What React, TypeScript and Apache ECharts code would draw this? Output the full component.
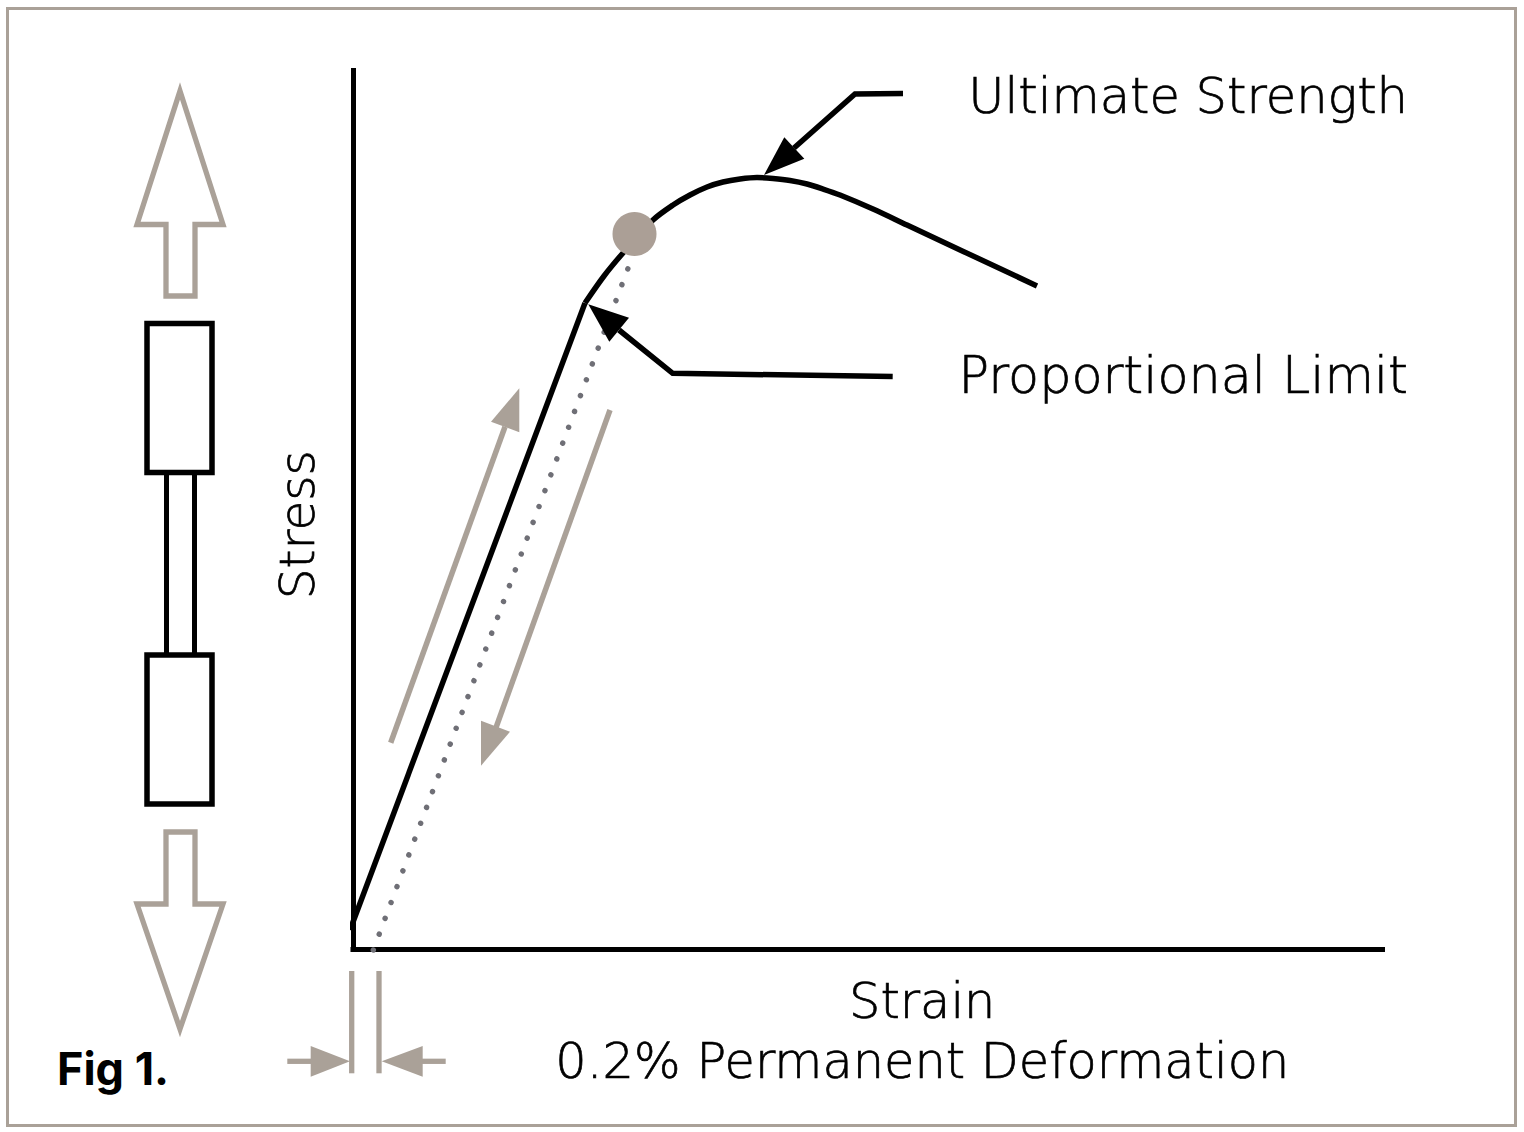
import React, { useEffect, useRef } from "react";
import * as echarts from "echarts";

const FONT = "'DejaVu Sans', sans-serif";
const FIG_FONT = "Inter, 'DejaVu Sans', sans-serif";
const GREY = "#aaa198";

const elasticLine = [[-0.03, 0.19], [2.32, 6.46]];
const plasticCurve = [[2.32, 6.46], [2.51, 6.73], [2.7, 6.96], [3.0, 7.29], [3.2, 7.44], [3.37, 7.54], [3.54, 7.62], [3.7, 7.67], [3.87, 7.7], [4.04, 7.715], [4.2, 7.705], [4.37, 7.685], [4.54, 7.65], [4.7, 7.6], [4.87, 7.54], [5.2, 7.4], [5.54, 7.24], [6.84, 6.63]];
const offsetLine = [[0.203, -0.01], [2.8, 6.94]];
const limitPoint = [[2.815, 7.15]];
const ultimateLeader = [[5.5, 8.555], [5.02, 8.55], [4.41, 8.01]];
const proportionalLeader = [[5.397, 5.725], [3.197, 5.757], [2.66, 6.19]];
const loadingLine = [[0.377, 2.063], [1.52, 5.223]];
const unloadingLine = [[2.57, 5.39], [1.425, 2.2]];
const offsetShafts = [
  [-0.013, -0.22, -0.013, -1.243],
  [0.26, -0.22, 0.26, -1.243],
  [-0.657, -1.123, -0.38, -1.123],
  [0.927, -1.123, 0.65, -1.123],
];
const blackHeads = [
  [4.11, 7.74, 4.313, 8.117, 4.513, 7.903],
  [2.353, 6.447, 2.76, 6.313, 2.563, 6.073],
];
const greyHeads = [
  [1.663, 5.607, 1.38, 5.273, 1.663, 5.167],
  [1.28, 1.833, 1.28, 2.283, 1.57, 2.173],
  [-0.03, -1.123, -0.423, -0.97, -0.423, -1.277],
  [0.287, -1.123, 0.697, -0.97, 0.697, -1.277],
];

const labelUltimate = "Ultimate Strength";
const labelProportional = "Proportional Limit";
const labelStress = "Stress";
const labelStrain = "Strain";
const labelOffset = "0.2% Permanent Deformation";
const labelFig = "Fig 1.";

const line = (data: number[][], color: string, z = 3, extra: any = {}) => ({
  type: "line",
  data,
  symbol: "none",
  clip: false,
  silent: true,
  z,
  lineStyle: { color, width: 5.5, cap: "butt", join: "miter", ...extra },
  ...(extra.smooth ? { smooth: extra.smooth } : {}),
});

const heads = (data: number[][], color: string) => ({
  type: "custom",
  data,
  clip: false,
  silent: true,
  z: 5,
  encode: { x: [0, 2, 4], y: [1, 3, 5] },
  renderItem: (_: any, api: any) => ({
    type: "polygon",
    shape: {
      points: [
        api.coord([api.value(0), api.value(1)]),
        api.coord([api.value(2), api.value(3)]),
        api.coord([api.value(4), api.value(5)]),
      ],
    },
    style: { fill: color },
  }),
});

const shafts = (data: number[][], color: string) => ({
  type: "custom",
  data,
  clip: false,
  silent: true,
  z: 5,
  encode: { x: [0, 2], y: [1, 3] },
  renderItem: (_: any, api: any) => {
    const a = api.coord([api.value(0), api.value(1)]);
    const b = api.coord([api.value(2), api.value(3)]);
    return {
      type: "line",
      shape: { x1: a[0], y1: a[1], x2: b[0], y2: b[1] },
      style: { stroke: color, lineWidth: 5.3 },
    };
  },
});

const outline = (points: number[][]) => ({
  type: "polygon",
  shape: { points },
  style: { fill: "none", stroke: GREY, lineWidth: 5.3, lineJoin: "miter", miterLimit: 10 },
});
const box = (x: number, y: number, width: number, height: number) => ({
  type: "rect",
  shape: { x, y, width, height },
  style: { fill: "#fff", stroke: "#000", lineWidth: 5.5 },
});
const bar = (x: number, y1: number, y2: number) => ({
  type: "line",
  shape: { x1: x, y1, x2: x, y2 },
  style: { stroke: "#000", lineWidth: 5 },
});
const label = (text: string, x: number, y: number, size: number, weight: number, align = "right", family = FONT, border = 0.7) => ({
  type: "text",
  x,
  y,
  style: { text, fontFamily: family, fontSize: size, fontWeight: weight, fill: "#000", textAlign: align, textVerticalAlign: "middle", stroke: border ? "#000" : undefined, lineWidth: border },
});

export default function App() {
  const ref = useRef<HTMLDivElement>(null);
  useEffect(() => {
    const chart = echarts.init(ref.current!, null, { renderer: "svg" });
    chart.setOption({
      animation: false,
      backgroundColor: "#fff",
      grid: { left: 353, top: 70.5, width: 1029.5, height: 878.5, containLabel: false },
      xAxis: {
        type: "value",
        min: 0,
        max: 10.295,
        name: labelStrain + "\n" + labelOffset,
        nameLocation: "middle",
        nameGap: 22,
        nameTextStyle: { fontFamily: FONT, fontSize: 49.4, fontWeight: 200, color: "#000", textBorderColor: "#000", textBorderWidth: 0.7, lineHeight: 60, padding: [0, 0, 0, 109], verticalAlign: "top" },
        axisLine: { show: true, onZero: false, lineStyle: { color: "#000", width: 5, cap: "square" } },
        axisTick: { show: false },
        axisLabel: { show: false },
        splitLine: { show: false },
      },
      yAxis: {
        type: "value",
        min: 0,
        max: 8.785,
        name: labelStress,
        nameLocation: "middle",
        nameGap: 32,
        nameTextStyle: { fontFamily: FONT, fontSize: 48.5, fontWeight: 200, color: "#000", textBorderColor: "#000", textBorderWidth: 0.7, padding: [0, 30, 0, 0] },
        axisLine: { show: true, onZero: false, lineStyle: { color: "#000", width: 5, cap: "square" } },
        axisTick: { show: false },
        axisLabel: { show: false },
        splitLine: { show: false },
      },
      series: [
        line(offsetLine, "#6f6f76", 2, { type: [0.01, 16.9], cap: "round", width: 5.5 }),
        line(elasticLine, "#000"),
        line(plasticCurve, "#000", 3, { smooth: 0.3 }),
        { type: "scatter", data: limitPoint, symbolSize: 44, silent: true, z: 4, itemStyle: { color: "#ab9f96", opacity: 1 } },
        line(ultimateLeader, "#000"),
        line(proportionalLeader, "#000"),
        heads(blackHeads, "#000"),
        line(loadingLine, GREY),
        line(unloadingLine, GREY),
        shafts(offsetShafts, GREY),
        heads(greyHeads, GREY),
      ],
      graphic: [
        { type: "rect", shape: { x: 7.5, y: 8.5, width: 1508, height: 1117 }, style: { fill: "none", stroke: GREY, lineWidth: 3 } },
        outline([[180, 91], [223, 224.5], [195, 224.5], [195, 296], [166, 296], [166, 224.5], [137, 224.5]]),
        outline([[180, 1029], [223, 904], [195, 904], [195, 832], [166, 832], [166, 904], [137, 904]]),
        bar(166.5, 473, 655),
        bar(194.5, 473, 655),
        box(147, 323.5, 65, 149),
        box(147, 655, 65, 149),
        label(labelUltimate, 1408, 96, 49.5, 200),
        label(labelProportional, 1408, 375, 50.8, 200),
        label(labelFig, 57, 1068, 45, 700, "left", FIG_FONT, 0),
      ],
    });
    return () => chart.dispose();
  }, []);
  return <div ref={ref} style={{ position: "absolute", left: 0, top: 0, width: 1524, height: 1132, background: "#fff" }} />;
}
